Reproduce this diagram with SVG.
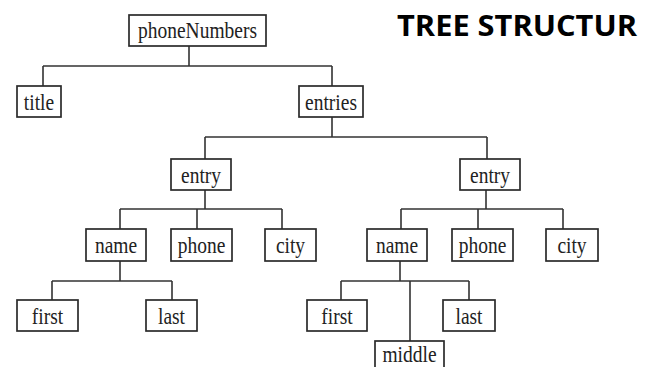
<svg xmlns="http://www.w3.org/2000/svg" width="651" height="367" viewBox="0 0 651 367">
<style>
.box{fill:#fff;stroke:#2b2b2b;stroke-width:1.7}
.lbl{font-family:"Liberation Serif","Times New Roman",serif;font-size:19.5px;fill:#222;text-anchor:middle}
.edge{fill:none;stroke:#333;stroke-width:1.6}
.ttl{font-family:"Open Sans","Liberation Sans",Arial,sans-serif;font-weight:bold;font-size:29px;fill:#000}
</style>
<rect width="651" height="367" fill="#fff"/>
<text class="ttl" x="397" y="36" textLength="240" lengthAdjust="spacingAndGlyphs">TREE STRUCTUR</text>
<g id="connectors">
<path class="edge" d="M189 46V66M43 66H332M43 66V86M332 66V86"/>
<path class="edge" d="M332 117V137M205 137H487M205 137V159M487 137V159"/>
<path class="edge" d="M205 190V209M120 209H282M120 209V229M197 209V229M282 209V229"/>
<path class="edge" d="M120 261V281M52 281H172M52 281V300M172 281V300"/>
<path class="edge" d="M486 190V209M401 209H563M401 209V229M478 209V229M563 209V229"/>
<path class="edge" d="M400 261V281M341 281H469M341 281V300M469 281V300M410 281V341"/>
</g>
<g id="phoneNumbers"><rect class="box" x="129" y="15" width="137" height="31"/><text class="lbl" transform="translate(197.5 38) scale(1 1.18)">phoneNumbers</text></g>
<g id="title"><rect class="box" x="17" y="86" width="44" height="31"/><text class="lbl" transform="translate(39 110) scale(1 1.18)">title</text></g>
<g id="entries"><rect class="box" x="299" y="86" width="64" height="31"/><text class="lbl" transform="translate(331 110) scale(1 1.18)">entries</text></g>
<g id="entry1"><rect class="box" x="171" y="159" width="60" height="31"/><text class="lbl" transform="translate(201 183) scale(1 1.18)">entry</text></g>
<g id="name1"><rect class="box" x="86" y="229" width="60" height="32"/><text class="lbl" transform="translate(116 253) scale(1 1.18)">name</text></g>
<g id="phone1"><rect class="box" x="171" y="229" width="61" height="32"/><text class="lbl" transform="translate(201.5 253) scale(1 1.18)">phone</text></g>
<g id="city1"><rect class="box" x="265" y="229" width="51" height="32"/><text class="lbl" transform="translate(290.5 253) scale(1 1.18)">city</text></g>
<g id="first1"><rect class="box" x="17" y="300" width="61" height="31"/><text class="lbl" transform="translate(47.5 324) scale(1 1.18)">first</text></g>
<g id="last1"><rect class="box" x="146" y="300" width="51" height="31"/><text class="lbl" transform="translate(171.5 324) scale(1 1.18)">last</text></g>
<g id="entry2"><rect class="box" x="460" y="159" width="60" height="31"/><text class="lbl" transform="translate(490 183) scale(1 1.18)">entry</text></g>
<g id="name2"><rect class="box" x="367" y="229" width="60" height="32"/><text class="lbl" transform="translate(397 253) scale(1 1.18)">name</text></g>
<g id="phone2"><rect class="box" x="452" y="229" width="61" height="32"/><text class="lbl" transform="translate(482.5 253) scale(1 1.18)">phone</text></g>
<g id="city2"><rect class="box" x="546" y="229" width="52" height="32"/><text class="lbl" transform="translate(572 253) scale(1 1.18)">city</text></g>
<g id="first2"><rect class="box" x="307" y="300" width="60" height="31"/><text class="lbl" transform="translate(337 324) scale(1 1.18)">first</text></g>
<g id="last2"><rect class="box" x="443" y="300" width="52" height="31"/><text class="lbl" transform="translate(469 324) scale(1 1.18)">last</text></g>
<g id="middle"><rect class="box" x="375" y="341" width="69" height="34"/><text class="lbl" transform="translate(409.5 362) scale(1 1.15)">middle</text></g>
</svg>
